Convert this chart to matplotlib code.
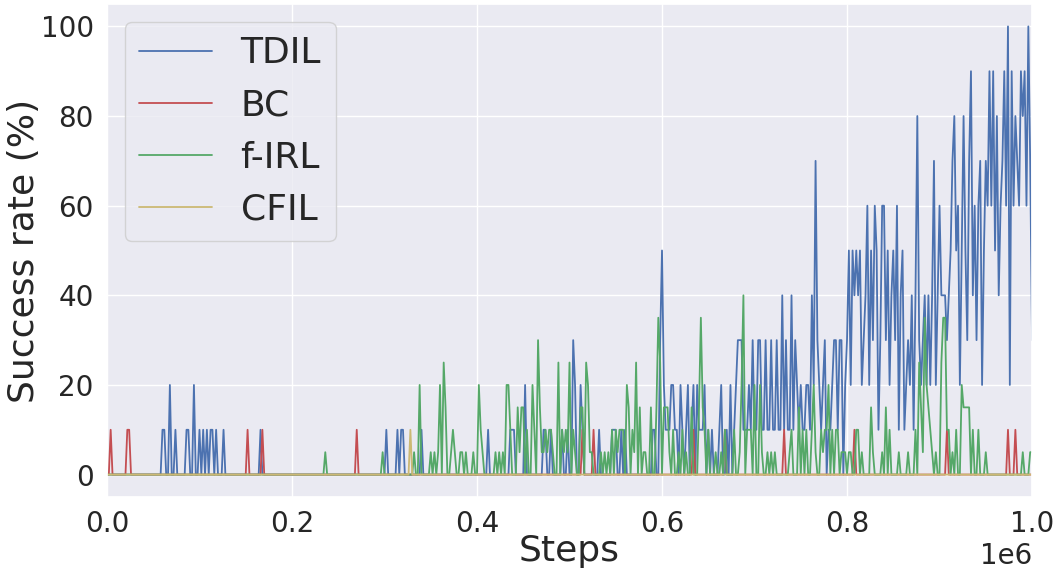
import numpy as np
import matplotlib
matplotlib.use("Agg")
import matplotlib.pyplot as plt
import seaborn as sns

# evaluation every 2000 steps, 0 .. 1e6
steps = np.arange(501) * 2000

# success rate (%), 25 evals per row
tdil = (
    [0] * 25
    + [0, 0, 0, 0, 0, 10, 10, 0, 0, 20, 0, 0, 10, 0, 0, 0, 0, 0, 10, 10, 0, 0, 20, 0, 0]
    + [10, 0, 10, 0, 10, 0, 10, 10, 0, 10, 0, 0, 0, 10, 0, 0, 0, 0, 0, 0, 0, 0, 0, 0, 0]
    + [0, 0, 0, 0, 0, 0, 0, 0, 10, 0, 0, 0, 0, 0, 0, 0, 0, 0, 0, 0, 0, 0, 0, 0, 0]
    + [0] * 25
    + [0] * 25
    + [0, 10, 0, 0, 0, 0, 0, 10, 0, 10, 10, 0, 0, 0, 0, 0, 0, 0, 0, 0, 10, 0, 0, 0, 0]
    + [0] * 25
    + [0, 0, 0, 0, 0, 0, 10, 0, 0, 0, 0, 0, 0, 0, 0, 0, 0, 0, 10, 10, 10, 0, 0, 0, 0]
    + [0, 20, 0, 0, 0, 0, 0, 0, 0, 0, 0, 10, 10, 0, 0, 10, 0, 0, 0, 0, 0, 10, 0, 0, 10]
    + [0, 0, 30, 20, 0, 0, 20, 10, 0, 0, 0, 0, 0, 0, 0, 0, 10, 0, 0, 0, 0, 0, 0, 10, 10]
    + [10, 0, 0, 10, 0, 10, 0, 0, 0, 0, 0, 0, 0, 0, 0, 0, 0, 0, 0, 0, 10, 10, 0, 0, 30]
    + [50, 20, 10, 10, 10, 20, 20, 10, 10, 0, 20, 10, 0, 10, 20, 0, 10, 20, 0, 20, 10, 10, 10, 20, 0]
    + [10, 0, 10, 0, 0, 0, 10, 20, 0, 0, 10, 0, 20, 0, 10, 20, 30, 30, 30, 10, 10, 10, 20, 10, 30]
    + [10, 10, 30, 30, 10, 10, 30, 10, 10, 30, 10, 10, 30, 10, 10, 40, 10, 30, 10, 10, 40, 10, 30, 20, 10]
    + [20, 10, 10, 20, 20, 10, 40, 20, 70, 30, 20, 10, 20, 30, 0, 10, 10, 20, 30, 30, 10, 30, 30, 0, 20]
    + [30, 50, 20, 50, 40, 50, 40, 50, 20, 30, 40, 60, 20, 50, 30, 60, 50, 10, 30, 60, 60, 30, 50, 20, 40]
    + [50, 30, 60, 10, 40, 50, 10, 20, 30, 20, 40, 10, 40, 80, 30, 20, 30, 40, 20, 40, 20, 40, 70, 20, 40]
    + [60, 40, 40, 40, 30, 40, 50, 70, 80, 50, 60, 20, 50, 80, 50, 30, 70, 90, 40, 60, 30, 60, 70, 20, 50]
    + [70, 60, 90, 60, 90, 50, 80, 40, 60, 70, 90, 60, 100, 20, 90, 60, 80, 70, 60, 90, 80, 90, 60, 100, 70]
    + [30]
)

firl = (
    [0] * 100
    + [0] * 18 + [5] + [0] * 6
    + [0] * 24 + [5]
    + [0] * 16 + [5, 0, 0, 20, 0, 0, 0, 0, 0]
    + [5, 0, 5, 0, 5, 20, 0, 25, 15, 0, 0, 5, 10, 5, 0, 0, 5, 5, 0, 5, 0, 0, 0, 5, 0]
    + [0, 20, 10, 5, 0, 0, 0, 0, 0, 0, 5, 0, 5, 0, 5, 0, 20, 20, 10, 0, 0, 0, 15, 5, 15]
    + [15, 0, 10, 0, 0, 20, 10, 0, 30, 15, 5, 5, 10, 5, 10, 10, 5, 0, 0, 25, 0, 10, 5, 10, 5]
    + [25, 0, 10, 5, 0, 0, 15, 15, 0, 25, 20, 5, 5, 0, 0, 0, 0, 5, 0, 5, 0, 5, 0, 10, 0]
    + [10, 5, 10, 10, 10, 0, 20, 15, 0, 10, 5, 25, 0, 15, 0, 5, 5, 0, 0, 15, 0, 0, 15, 35, 25]
    + [0, 15, 15, 15, 5, 0, 10, 0, 0, 5, 0, 10, 0, 5, 0, 0, 15, 0, 0, 0, 15, 35, 15, 10, 0]
    + [10, 0, 0, 0, 5, 0, 0, 5, 0, 10, 0, 0, 0, 0, 10, 0, 0, 5, 20, 40, 0, 10, 10, 10, 0]
    + [20, 0, 0, 20, 5, 0, 0, 5, 0, 5, 0, 5, 0, 0, 0, 0, 0, 0, 0, 5, 10, 0, 0, 0, 15]
    + [0, 10, 0, 10, 0, 0, 10, 20, 5, 0, 0, 10, 5, 10, 10, 20, 0, 10, 0, 10, 10, 0, 5, 5, 5]
    + [0, 5, 5, 0, 0, 10, 10, 0, 5, 0, 0, 0, 0, 15, 5, 0, 0, 0, 0, 5, 0, 15, 0, 10, 0]
    + [0, 0, 0, 5, 0, 0, 0, 0, 5, 0, 0, 0, 10, 0, 25, 15, 5, 35, 20, 15, 10, 5, 0, 5, 0]
    + [0, 25, 35, 35, 10, 10, 0, 5, 0, 10, 0, 0, 20, 15, 15, 15, 15, 0, 10, 0, 0, 10, 0, 0, 0]
    + [5] + [0] * 19 + [5, 0, 0, 0, 5]
    + [5]
)

# BC and CFIL are zero except for a few single evals at 10%
bc_spikes = [2, 11, 12, 76, 84, 135, 257, 263, 317, 334, 366, 404, 454, 487, 491]
cfil_spikes = [164]

bc = np.zeros(len(steps))
bc[bc_spikes] = 10
cfil = np.zeros(len(steps))
cfil[cfil_spikes] = 10

sns.set_theme(style="darkgrid")
plt.rcParams["font.family"] = ["DejaVu Sans"]
pal = sns.color_palette("deep")

fig = plt.figure(figsize=(10.56, 5.71), dpi=100)
ax = fig.add_axes([0.1013, 0.1296, 0.876, 0.8634])

lw = 1.3
ax.plot(steps, tdil, color=pal[0], lw=lw, label="TDIL")
ax.plot(steps, bc, color=pal[3], lw=lw, label="BC")
ax.plot(steps, firl, color=pal[2], lw=lw, label="f-IRL")
ax.plot(steps, cfil, color=pal[8], lw=lw, label="CFIL")

ax.set_xlim(0, 1e6)
ax.set_ylim(-5, 105)
ax.set_xlabel("Steps", fontsize=26, labelpad=-3)
ax.set_ylabel("Success rate (%)", fontsize=26, labelpad=0)
ax.tick_params(labelsize=20)
ax.xaxis.get_offset_text().set_fontsize(20)
ax.legend(loc="upper left", fontsize=26, labelspacing=0.5)

fig.savefig("out.png", dpi=100)
